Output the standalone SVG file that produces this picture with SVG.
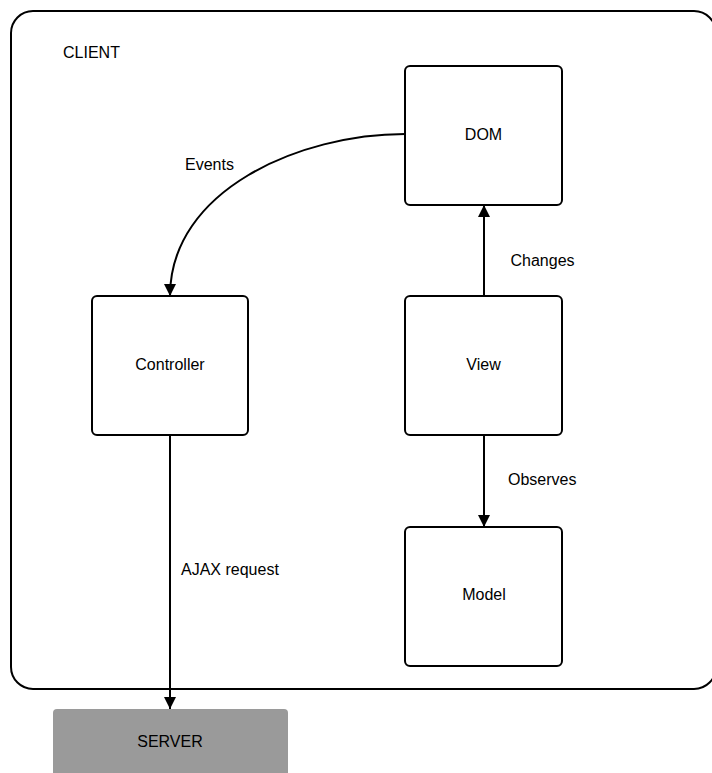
<svg xmlns="http://www.w3.org/2000/svg" width="712" height="773" viewBox="0 0 712 773">
  <style>
    .box { fill: #ffffff; stroke: #000000; stroke-width: 2; }
    .lbl { font-family: "Liberation Sans", Arial, sans-serif; font-size: 16px; fill: #000000; }
    .mid { text-anchor: middle; }
    .edge { fill: none; stroke: #000000; stroke-width: 2; }
  </style>
  <defs>
    <marker id="arrow" markerWidth="12" markerHeight="14" viewBox="0 0 12 14" refX="12" refY="7" orient="auto" markerUnits="userSpaceOnUse">
      <path d="M0,1 L12,7 L0,13 Z" fill="#000000"/>
    </marker>
  </defs>

  <rect width="712" height="773" fill="#ffffff"/>

  <!-- client boundary -->
  <g id="client">
    <rect x="11" y="11" width="705" height="678" rx="22" ry="22" class="box"/>
    <text x="63" y="58" class="lbl">CLIENT</text>
  </g>

  <g id="server">
    <rect x="53" y="709" width="235" height="80" rx="4" ry="4" fill="#9a9a9a"/>
    <text x="170" y="747" class="lbl mid">SERVER</text>
  </g>

  <g id="dom">
    <rect x="405" y="66" width="157" height="139" rx="5" ry="5" class="box"/>
    <text x="483.5" y="140" class="lbl mid">DOM</text>
  </g>

  <g id="controller">
    <rect x="92" y="296" width="156" height="139" rx="5" ry="5" class="box"/>
    <text x="170" y="370" class="lbl mid">Controller</text>
  </g>

  <g id="view">
    <rect x="405" y="296" width="157" height="139" rx="5" ry="5" class="box"/>
    <text x="483.5" y="370" class="lbl mid">View</text>
  </g>

  <g id="model">
    <rect x="405" y="527" width="157" height="139" rx="5" ry="5" class="box"/>
    <text x="484" y="600" class="lbl mid">Model</text>
  </g>

  <!-- connectors -->
  <g id="connectors">
    <path d="M405,134 C300,134 170,190 170,296" class="edge" marker-end="url(#arrow)"/>
    <text x="185" y="170" class="lbl">Events</text>

    <path d="M484,296 L484,205" class="edge" marker-end="url(#arrow)"/>
    <text x="510.5" y="266" class="lbl">Changes</text>

    <path d="M484,435 L484,527" class="edge" marker-end="url(#arrow)"/>
    <text x="508" y="485" class="lbl">Observes</text>

    <path d="M170,435 L170,709" class="edge" marker-end="url(#arrow)"/>
    <text x="181" y="575" class="lbl">AJAX request</text>
  </g>
</svg>
